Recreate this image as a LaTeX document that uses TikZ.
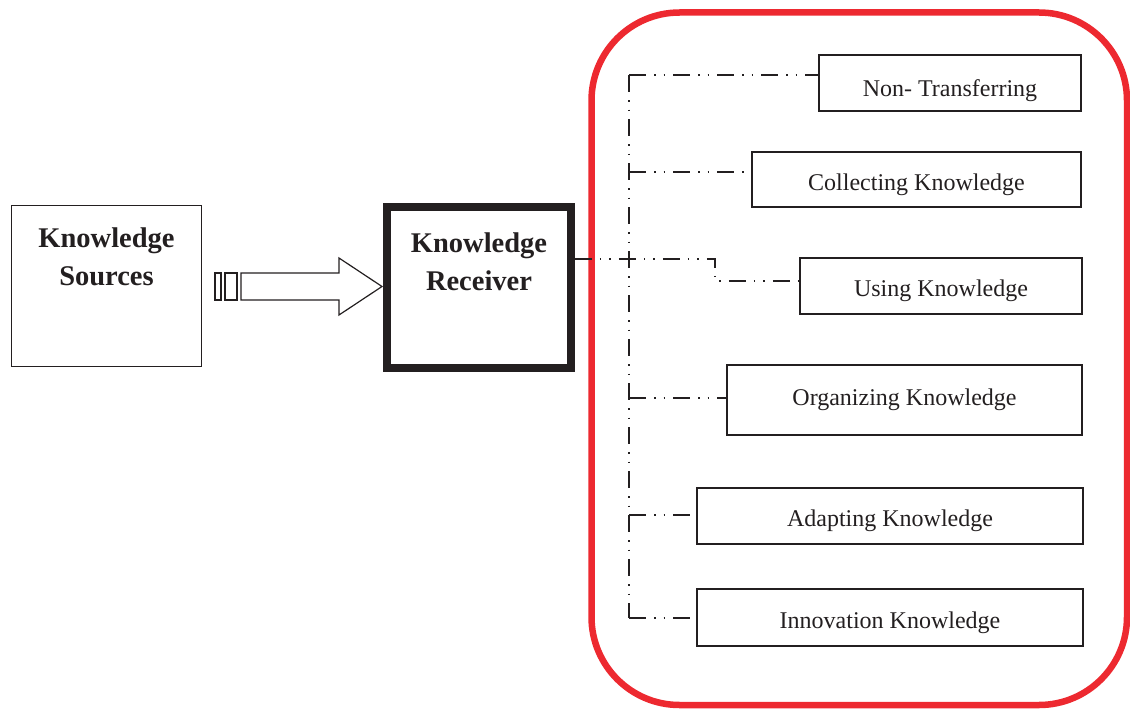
\documentclass[tikz,border=0pt]{standalone}
\usepackage{fontspec}
\setmainfont{Liberation Serif}
\definecolor{ink}{RGB}{35,31,32}
\definecolor{frame}{RGB}{237,41,48}
\begin{document}
\begin{tikzpicture}[x=1pt,y=-1pt,
  box/.style={draw=ink, line width=1.3pt, inner sep=0pt, text=ink,
    font=\fontsize{24}{28}\selectfont, text height=21pt, text depth=0pt},
  srcbox/.style={draw=ink, line width=1.3pt, inner sep=0pt},
  bigtxt/.style={font=\bfseries\fontsize{28.5}{38}\selectfont, align=center, text=ink, inner sep=0pt},
  ddot/.style={draw=ink, line width=1.3pt, dash pattern=on 17pt off 8pt on 1.5pt off 8pt on 1.5pt off 8pt},
  redframe/.style={draw=frame, line width=6.5pt, rounded corners=88pt}]
\useasboundingbox (0,0) rectangle (1130,709);

% red frame
\draw[redframe] (591.5,12.5) rectangle (1127,705);

% left boxes
\node[srcbox, minimum width=190pt, minimum height=161pt] (src) at (106.5,286) {};
\node[bigtxt] (srctxt) at (106.5,256.5) {Knowledge\\Sources};
\node[draw=ink, line width=7.5pt, minimum width=184pt, minimum height=161pt, inner sep=0pt] (rcv) at (479,287.5) {};
\node[bigtxt] (rcvtxt) at (479,261.5) {Knowledge\\Receiver};

% block arrow
\draw[ink, line width=1.2pt] (215,273) rectangle (221,300);
\draw[ink, line width=1.2pt] (225,273) rectangle (237,300);
\draw[ink, line width=1.2pt, line join=miter] (241,273) -- (339,273) -- (339,258) -- (382,286.5) -- (339,315) -- (339,300) -- (241,300) -- cycle;

% right boxes
\node[box, minimum width=262pt, minimum height=56pt, text height=27pt] (nt) at (950,83) {Non- Transferring};
\node[box, minimum width=329pt, minimum height=55pt] (cl) at (916.5,179.5) {Collecting Knowledge};
\node[box, minimum width=282pt, minimum height=56pt] (us) at (941,286) {Using Knowledge};
\node[box, minimum width=355pt, minimum height=70pt, text height=10pt] (og) at (904.5,400) {Organizing Knowledge};
\node[box, minimum width=386pt, minimum height=56pt] (ad) at (890,516) {Adapting Knowledge};
\node[box, minimum width=386pt, minimum height=57pt] (in) at (890,617.5) {Innovation Knowledge};

% connectors
\coordinate (ttop) at (629,75);
\coordinate (j2) at (629,172);
\coordinate (j4) at (629,398);
\coordinate (j5) at (629,515);
\coordinate (tbot) at (629,618);
\coordinate (rk) at (715,259);
\coordinate (uk) at (715,281);

\draw[ddot] (ttop) -- (tbot);
\draw[ddot] (ttop) -- (nt.west |- ttop);
\draw[ddot] (j2) -- (cl.west |- j2);
\draw[ddot] (j4) -- (og.west |- j4);
\draw[ddot] (j5) -- (ad.west |- j5);
\draw[ddot] (tbot) -- (in.west |- tbot);
\draw[ddot] (rcv.east |- rk) -- (rk) -- (uk) -- (us.west |- uk);
\end{tikzpicture}
\end{document}
